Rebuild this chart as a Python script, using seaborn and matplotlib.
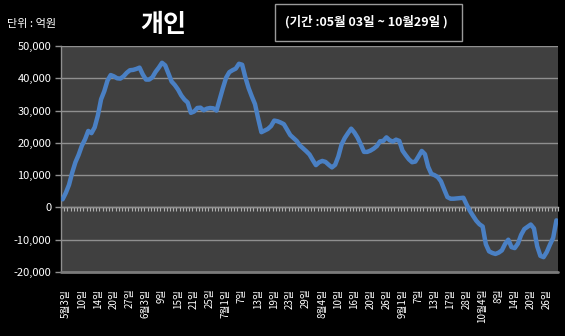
import numpy as np
import pandas as pd
import matplotlib
matplotlib.use("Agg")
import matplotlib.pyplot as plt
import matplotlib.transforms as mtransforms
from matplotlib.patches import Rectangle
import seaborn as sns

# Individual investors' cumulative net buying (unit: 100 million won)
net_buy = [
    2500, 4500, 7000, 10800, 14000, 16300, 19100, 21100, 23700, 23000,
    24800, 28500, 33500, 36000, 39300, 41000, 40600, 40000, 39900, 40600,
    41700, 42500, 42600, 42900, 43300, 41200, 39600, 39600, 40300, 42000,
    43300, 44800, 44000, 41500, 39000, 37900, 36500, 34700, 33400, 32500,
    29300, 29700, 30800, 30900, 30100, 30600, 30800, 30700, 30000, 33500,
    37000, 40200, 41900, 42500, 43000, 44500, 44200, 40300, 37000, 34400,
    32000, 27500, 23300, 23800, 24300, 25200, 26900, 26700, 26300, 25800,
    24100, 22400, 21500, 20600, 19200, 18300, 17400, 16400, 14700, 13100,
    14000, 14400, 14100, 13200, 12400, 13200, 15800, 19500, 21500, 23000,
    24400, 23200, 21600, 19500, 17200, 17200, 17600, 18200, 19000, 20500,
    20600, 21700, 20800, 20400, 21000, 20600, 17600, 16200, 14900, 14000,
    14200, 15800, 17500, 16500, 12600, 10400, 10000, 9400, 8100, 5600,
    3200, 2700, 2700, 2800, 2900, 3000, 900, -1000, -2600, -4100,
    -5200, -5900, -11400, -13600, -14100, -14400, -14000, -13300, -11300, -10000,
    -12300, -12600, -11200, -8500, -6700, -6000, -5300, -6500, -12000, -15000,
    -15400, -13800, -11500, -9400, -4000,
]

# Category labels, one every five points
date_labels = [
    "5월3일", "10일", "14일", "20일", "27일",
    "6월3일", "9일", "15일", "21일", "25일",
    "7월1일", "7일", "13일", "19일", "23일", "29일",
    "8월4일", "10일", "16일", "20일", "26일",
    "9월1일", "7일", "13일", "17일", "28일",
    "10월4일", "8일", "14일", "20일", "26일",
]
label_step = 5

y_ticks = [-20000, -10000, 0, 10000, 20000, 30000, 40000, 50000]

title = "개인"
unit_text = "단위 : 억원"
period_text = "(기간 :05월 03일 ~ 10월29일 )"

sns.set_style("dark")
plt.rcParams["font.family"] = ["Noto Sans CJK KR", "DejaVu Sans"]

df = pd.DataFrame({"idx": np.arange(len(net_buy)), "value": net_buy})
n = len(df)

W, H = 565, 336
fig = plt.figure(figsize=(W / 100, H / 100), dpi=100, facecolor="black")
left, right, top, bottom = 61, 558, 46, 272
ax = fig.add_axes([left / W, 1 - bottom / H, (right - left) / W, (bottom - top) / H])
ax.set_facecolor("#404040")

sns.lineplot(data=df, x="idx", y="value", ax=ax, color="#4a80c4",
             linewidth=3.2, solid_joinstyle="round", solid_capstyle="round", zorder=3)

ax.set_xlim(-0.5, n - 0.5)
ax.set_ylim(-20000, 50000)
ax.set_yticks(y_ticks)
ax.set_yticklabels([f"{v:,}" for v in y_ticks])
ax.grid(axis="y", color="#8f8f8f", linewidth=1.0)
ax.grid(axis="x", visible=False)
ax.set_xlabel("")
ax.set_ylabel("")

ax.tick_params(axis="y", labelsize=8, length=4, width=1, left=True,
               direction="out", pad=3, color="#8f8f8f", labelcolor="white")

tick_pos = list(range(0, n, label_step))[:len(date_labels)]
ax.set_xticks(tick_pos)
ax.set_xticklabels(date_labels, rotation=90, fontsize=7, color="white")
ax.tick_params(axis="x", length=0, pad=12)
shift = mtransforms.ScaledTranslation(3 / 100, 0, fig.dpi_scale_trans)
for lbl in ax.get_xticklabels():
    lbl.set_transform(lbl.get_transform() + shift)

for side, sp in ax.spines.items():
    sp.set_visible(side == "left")
    sp.set_color("#8f8f8f")
    sp.set_linewidth(1.0)

# horizontal axis crossing at zero, with a tick per category
zero_frac = (0 - (-20000)) / 70000
sec = ax.secondary_xaxis(zero_frac)
sec.set_xticks(np.arange(-0.5, n, 1.0))
sec.set_xticklabels([])
sec.tick_params(axis="x", direction="out", length=3, width=0.8, color="#b0b0b0")
sec.spines["bottom"].set_color("#b0b0b0")
sec.spines["bottom"].set_linewidth(1.0)
for side in ("top", "left", "right"):
    sec.spines[side].set_visible(False)

# plot frame bottom edge
ax.axhline(-20000, color="#7a7a7a", linewidth=2, zorder=4, clip_on=False)

fig.text(7 / W, 1 - 24 / H, unit_text, color="white", fontsize=8, va="center", ha="left")
fig.text(163 / W, 1 - 25 / H, title, color="white", fontsize=18, fontweight="bold",
         va="center", ha="center")

fig.patches.append(Rectangle((275 / W, 1 - 41 / H), (462 - 275) / W, (41 - 4) / H,
                             transform=fig.transFigure, facecolor="black",
                             edgecolor="#9a9a9a", linewidth=1.0))
fig.text(366 / W, 1 - 22 / H, period_text, color="white", fontsize=9,
         fontweight="bold", va="center", ha="center")

fig.savefig("out.png", dpi=100, facecolor="black")
